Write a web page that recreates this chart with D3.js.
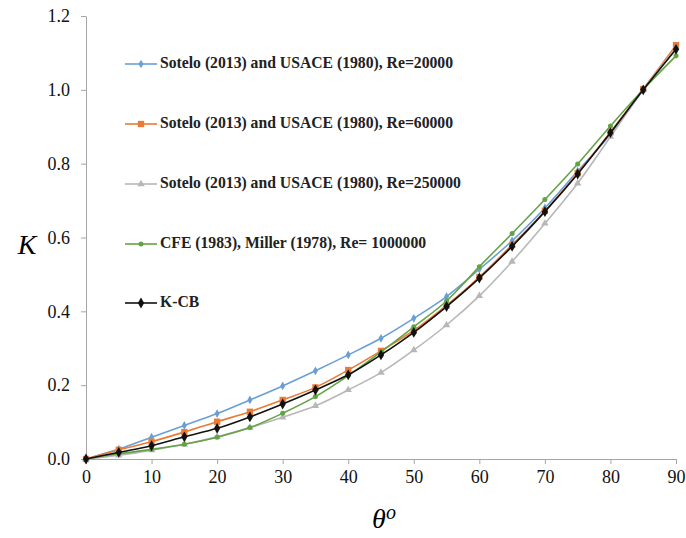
<!DOCTYPE html>
<html>
<head>
<meta charset="utf-8">
<script src="https://cdn.jsdelivr.net/npm/d3@7"></script>
<style>
  body { margin: 0; background: #fff; }
  text { font-family: "Liberation Serif", "Times New Roman", serif; }
</style>
</head>
<body>
<div id="chart"></div>
<script>
// angles (degrees)
const theta = [0, 5, 10, 15, 20, 25, 30, 35, 40, 45, 50, 55, 60, 65, 70, 75, 80, 85, 90];

// K values
const kRe20000 = [0, 0.027, 0.059, 0.091, 0.123, 0.16, 0.198, 0.239, 0.282, 0.327, 0.381, 0.44, 0.514, 0.591, 0.68, 0.78, 0.88, 1.0, 1.115];
const kRe60000 = [0, 0.025, 0.047, 0.073, 0.101, 0.128, 0.16, 0.194, 0.241, 0.293, 0.348, 0.416, 0.493, 0.58, 0.672, 0.774, 0.885, 1.002, 1.121];
const kRe250000 = [0, 0.01, 0.024, 0.04, 0.06, 0.085, 0.113, 0.144, 0.187, 0.234, 0.295, 0.363, 0.442, 0.535, 0.638, 0.747, 0.873, 1.0, 1.115];
const kRe1000000 = [0, 0.014, 0.026, 0.04, 0.059, 0.085, 0.124, 0.169, 0.226, 0.29, 0.358, 0.428, 0.521, 0.611, 0.703, 0.799, 0.902, 1.001, 1.092];
const kCB = [0, 0.018, 0.036, 0.06, 0.083, 0.114, 0.149, 0.187, 0.228, 0.282, 0.343, 0.413, 0.49, 0.576, 0.67, 0.772, 0.884, 1.0, 1.11];

const seriesNames = [
  "Sotelo (2013) and USACE (1980), Re=20000",
  "Sotelo (2013) and USACE (1980), Re=60000",
  "Sotelo (2013) and USACE (1980), Re=250000",
  "CFE (1983), Miller (1978), Re= 1000000",
  "K-CB"
];
const xTicks = [0, 10, 20, 30, 40, 50, 60, 70, 80, 90];
const yTicks = [0, 0.2, 0.4, 0.6, 0.8, 1.0, 1.2];

const W = 686, H = 538;
const margin = { top: 16, right: 10, bottom: 79, left: 86 };

const svg = d3.select("#chart").append("svg")
  .attr("width", W).attr("height", H);

const x = d3.scaleLinear().domain([0, 90]).range([margin.left, 676]);
const y = d3.scaleLinear().domain([0, 1.2]).range([H - margin.bottom, margin.top]);

// axes
const xAxis = svg.append("g")
  .attr("transform", `translate(0,${y(0)})`)
  .call(d3.axisBottom(x).tickValues(xTicks).tickSize(5).tickSizeOuter(0).tickPadding(6));
const yAxis = svg.append("g")
  .attr("transform", `translate(${x(0)},0)`)
  .call(d3.axisLeft(y).tickValues(yTicks).tickSize(5).tickSizeOuter(0).tickPadding(11)
    .tickFormat(d3.format(".1f")));

[xAxis, yAxis].forEach(g => {
  g.select(".domain").attr("stroke", "#a6a6a6");
  g.selectAll(".tick line").attr("stroke", "#a6a6a6");
  g.selectAll(".tick text")
    .style("font-family", "'Liberation Serif', serif")
    .style("font-size", "18px")
    .attr("fill", "#111");
});

// axis titles
svg.append("text")
  .attr("x", 27).attr("y", 254)
  .attr("text-anchor", "middle")
  .style("font-size", "28px").style("font-style", "italic")
  .text("K");

const xt = svg.append("text")
  .attr("x", 384).attr("y", 528)
  .attr("text-anchor", "middle")
  .style("font-size", "28px").style("font-style", "italic");
xt.append("tspan").text("θ");
xt.append("tspan").attr("dy", -9).style("font-size", "20px").text("o");

const series = [
  { name: seriesNames[0], values: kRe20000, color: "#6a9fd6", marker: d3.symbolDiamond, size: 22 },
  { name: seriesNames[1], values: kRe60000, color: "#ea7a35", marker: d3.symbolSquare, size: 40 },
  { name: seriesNames[2], values: kRe250000, color: "#b7b7b7", marker: d3.symbolTriangle, size: 24 },
  { name: seriesNames[3], values: kRe1000000, color: "#64a345", marker: d3.symbolCircle, size: 20 },
  { name: seriesNames[4], values: kCB, color: "#111111", marker: d3.symbolDiamond, size: 34 }
];

const line = d3.line()
  .x(d => x(d[0]))
  .y(d => y(d[1]))
  .curve(d3.curveCatmullRom);

series.forEach(s => {
  const pts = theta.map((t, i) => [t, s.values[i]]);
  svg.append("path")
    .datum(pts)
    .attr("d", line)
    .attr("fill", "none")
    .attr("stroke", s.color)
    .attr("stroke-width", 1.6);
  svg.append("g").selectAll("path")
    .data(pts)
    .join("path")
    .attr("transform", d => `translate(${x(d[0])},${y(d[1])})`)
    .attr("d", d3.symbol().type(s.marker).size(s.size))
    .attr("fill", s.color);
});

// legend
const legendY = [64, 124, 184, 244, 303];
series.forEach((s, i) => {
  const g = svg.append("g").attr("transform", `translate(125,${legendY[i]})`);
  g.append("line")
    .attr("x1", 0).attr("x2", 32)
    .attr("stroke", s.color).attr("stroke-width", 1.6);
  g.append("path")
    .attr("transform", "translate(16,0)")
    .attr("d", d3.symbol().type(s.marker).size(s.size))
    .attr("fill", s.color);
  g.append("text")
    .attr("x", 35).attr("y", 0)
    .attr("dominant-baseline", "middle")
    .style("font-size", "15.7px")
    .style("font-weight", "bold")
    .attr("fill", "#222")
    .text(s.name);
});
</script>
</body>
</html>
